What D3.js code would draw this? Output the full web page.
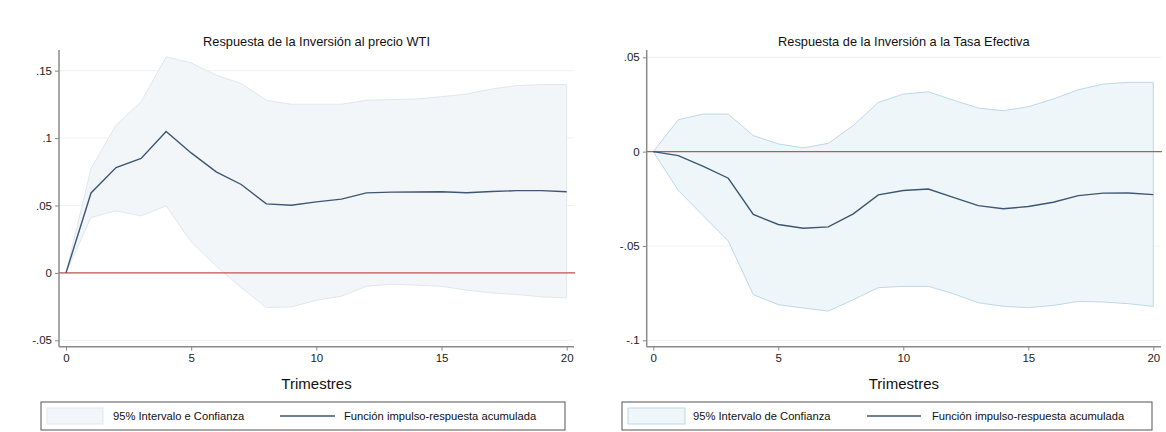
<!DOCTYPE html>
<html>
<head>
<meta charset="utf-8">
<script src="https://cdn.jsdelivr.net/npm/d3@7/dist/d3.min.js"></script>
<style>
  html, body { margin: 0; padding: 0; background: #fff; }
  svg { display: block; font-family: "Liberation Sans", Arial, Helvetica, sans-serif; }
</style>
</head>
<body>
<svg id="chart" width="1166" height="432"></svg>
<script>
// Quarters after the shock
const quarters = d3.range(0, 21);

// Response of investment to the WTI price (cumulative IRF and 95% band)
const wtiIrf = [0, 0.0593, 0.0782, 0.0849, 0.1049, 0.089, 0.075, 0.0656, 0.0512, 0.0502, 0.0527,
  0.0547, 0.0594, 0.0599, 0.06, 0.0602, 0.0595, 0.0604, 0.061, 0.061, 0.0602];
const wtiUpper = [0, 0.0775, 0.1096, 0.1269, 0.1603, 0.1558, 0.1467, 0.1405, 0.1281, 0.1251, 0.1251,
  0.1251, 0.128, 0.1285, 0.129, 0.1307, 0.1327, 0.1364, 0.1389, 0.1397, 0.1397];
const wtiLower = [0, 0.0411, 0.046, 0.0423, 0.0497, 0.023, 0.005, -0.0108, -0.0257, -0.0252, -0.0203,
  -0.0173, -0.0099, -0.0084, -0.0091, -0.0099, -0.0128, -0.0148, -0.016, -0.0178, -0.0185];

// Response of investment to the effective rate (cumulative IRF and 95% band)
const tasaIrf = [0, -0.0021, -0.0078, -0.0141, -0.0333, -0.0386, -0.0406, -0.0399, -0.033, -0.0229, -0.0206,
  -0.0198, -0.0242, -0.0286, -0.0303, -0.0291, -0.0268, -0.0233, -0.022, -0.0219, -0.0228];
const tasaUpper = [0, 0.0169, 0.0199, 0.0199, 0.0085, 0.0041, 0.002, 0.0044, 0.0138, 0.0261, 0.0305,
  0.0317, 0.0273, 0.0231, 0.0217, 0.0238, 0.0279, 0.0328, 0.0358, 0.0367, 0.0367];
const tasaLower = [0, -0.0206, -0.034, -0.0474, -0.0758, -0.0811, -0.0829, -0.0845, -0.0785, -0.0721, -0.0714,
  -0.0714, -0.0753, -0.0801, -0.082, -0.0827, -0.0815, -0.0794, -0.0797, -0.0806, -0.082];

// Axis ticks
const xTicks = [0, 5, 10, 15, 20];
const wtiYTicks = [-0.05, 0, 0.05, 0.1, 0.15];
const tasaYTicks = [-0.1, -0.05, 0, 0.05];

const titles = ["Respuesta de la Inversión al precio WTI", "Respuesta de la Inversión a la Tasa Efectiva"];
const xLabel = "Trimestres";
const bandLabels = ["95% Intervalo e Confianza", "95% Intervalo de Confianza"];
const lineLabel = "Función impulso-respuesta acumulada";

function fmtTick(v) {
  if (v === 0) return "0";
  const s = String(+v.toFixed(3));
  return s.replace(/^(-?)0\./, "$1.");
}

const svg = d3.select("#chart");
const plotTop = 50, plotBottom = 346.7;

function panel(cfg) {
  const g = svg.append("g");
  const x = d3.scaleLinear().domain([0, 20]).range([cfg.x0, cfg.x20]);
  const y = d3.scaleLinear().domain(cfg.yDomain).range([cfg.yLo, cfg.yHi]);
  const right = cfg.right;

  // gridlines
  g.append("g").selectAll("line").data(cfg.yTicks).join("line")
    .attr("x1", cfg.axisX).attr("x2", right)
    .attr("y1", d => y(d)).attr("y2", d => y(d))
    .attr("stroke", "#eef1f5").attr("stroke-width", 1);

  const data = quarters.map((q, i) => ({ q, m: cfg.irf[i], lo: cfg.lower[i], hi: cfg.upper[i] }));

  // confidence band
  const area = d3.area().x(d => x(d.q)).y0(d => y(d.lo)).y1(d => y(d.hi));
  g.append("path").datum(data).attr("d", area).attr("fill", cfg.bandFill).attr("stroke", "none");
  const edge = (acc) => d3.line().x(d => x(d.q)).y(d => y(acc(d)));
  g.append("path").datum(data).attr("d", edge(d => d.hi)).attr("fill", "none")
    .attr("stroke", cfg.bandStroke).attr("stroke-width", 1);
  g.append("path").datum(data).attr("d", edge(d => d.lo)).attr("fill", "none")
    .attr("stroke", cfg.bandStroke).attr("stroke-width", 1);
  g.append("line").attr("x1", x(20)).attr("x2", x(20))
    .attr("y1", y(cfg.upper[20])).attr("y2", y(cfg.lower[20]))
    .attr("stroke", cfg.bandStroke).attr("stroke-width", 1);

  // zero reference line
  g.append("line").attr("x1", cfg.axisX).attr("x2", right + 1)
    .attr("y1", y(0)).attr("y2", y(0))
    .attr("stroke", "#c25450").attr("stroke-width", 1.2);

  // IRF line
  g.append("path").datum(data).attr("d", edge(d => d.m)).attr("fill", "none")
    .attr("stroke", "#3d5673").attr("stroke-width", 1.4);

  // y axis
  const yAxis = g.append("g").attr("transform", `translate(${cfg.axisX},0)`)
    .call(d3.axisLeft(y).tickValues(cfg.yTicks).tickFormat(fmtTick).tickSize(4).tickPadding(3));
  yAxis.select(".domain").attr("d", `M0,${plotTop}V${plotBottom}`);
  yAxis.selectAll("line").attr("stroke", "#8a8a8a");
  yAxis.select(".domain").attr("stroke", "#8a8a8a").attr("stroke-width", 1.5);
  yAxis.selectAll("text").attr("font-size", 11.5).attr("fill", "#222")
    .attr("font-family", "Liberation Sans, Arial, sans-serif");

  // x axis
  const xAxis = g.append("g").attr("transform", `translate(0,${plotBottom})`)
    .call(d3.axisBottom(x).tickValues(xTicks).tickFormat(d3.format("d")).tickSize(4).tickPadding(3));
  xAxis.select(".domain").attr("d", `M${cfg.axisX},0H${right}`);
  xAxis.selectAll("line").attr("stroke", "#8a8a8a");
  xAxis.select(".domain").attr("stroke", "#8a8a8a").attr("stroke-width", 1.5);
  xAxis.selectAll("text").attr("font-size", 11.5).attr("fill", "#222")
    .attr("font-family", "Liberation Sans, Arial, sans-serif");

  // titles
  const cx = (cfg.axisX + right) / 2;
  g.append("text").attr("x", cx).attr("y", 46).attr("text-anchor", "middle")
    .attr("font-size", 12.8).attr("fill", "#111").text(cfg.title);
  g.append("text").attr("x", cx).attr("y", 389).attr("text-anchor", "middle")
    .attr("font-size", 15).attr("fill", "#111").text(xLabel);

  // legend
  const lg = g.append("g");
  lg.append("rect").attr("x", cfg.leg.x).attr("y", 402).attr("width", cfg.leg.w).attr("height", 28)
    .attr("fill", "#fff").attr("stroke", "#555").attr("stroke-width", 1);
  lg.append("rect").attr("x", cfg.leg.sw).attr("y", 408).attr("width", cfg.leg.swW).attr("height", 16)
    .attr("fill", cfg.bandFill).attr("stroke", cfg.bandStroke).attr("stroke-width", 1);
  lg.append("text").attr("x", cfg.leg.t1).attr("y", 420).attr("font-size", 11.2).attr("fill", "#111")
    .text(cfg.bandLabel);
  lg.append("line").attr("x1", cfg.leg.l1).attr("x2", cfg.leg.l2).attr("y1", 416).attr("y2", 416)
    .attr("stroke", "#3d5673").attr("stroke-width", 1.4);
  lg.append("text").attr("x", cfg.leg.t2).attr("y", 420).attr("font-size", 11.2).attr("fill", "#111")
    .text(lineLabel);
}

panel({
  title: titles[0], bandLabel: bandLabels[0],
  irf: wtiIrf, upper: wtiUpper, lower: wtiLower,
  x0: 66, x20: 566.7, axisX: 59, right: 574,
  yDomain: [-0.05, 0.15], yLo: 340.3, yHi: 70.7, yTicks: wtiYTicks,
  bandFill: "#f3f6f9", bandStroke: "#dfe7ef",
  leg: { x: 41, w: 524, sw: 47, swW: 56, t1: 113, l1: 280, l2: 335, t2: 344 }
});

panel({
  title: titles[1], bandLabel: bandLabels[1],
  irf: tasaIrf, upper: tasaUpper, lower: tasaLower,
  x0: 653.3, x20: 1153.3, axisX: 646.7, right: 1161,
  yDomain: [-0.1, 0.05], yLo: 340.3, yHi: 57.3, yTicks: tasaYTicks,
  bandFill: "#eef6fa", bandStroke: "#bcd9e9",
  leg: { x: 622, w: 530, sw: 628, swW: 57, t1: 693, l1: 867, l2: 921, t2: 932 }
});
</script>
</body>
</html>
